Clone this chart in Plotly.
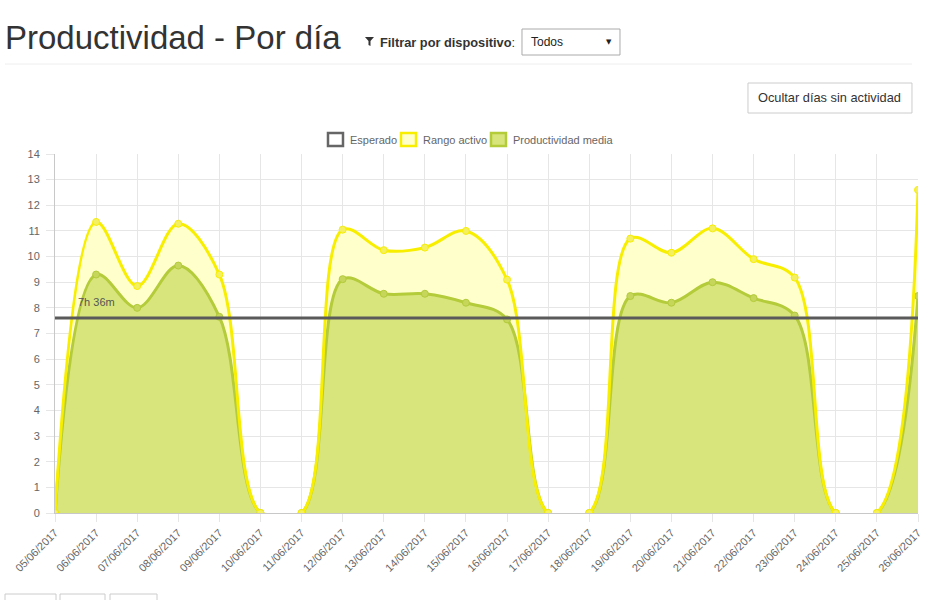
import plotly.graph_objects as go

dates = ["05/06/2017", "06/06/2017", "07/06/2017", "08/06/2017", "09/06/2017",
         "10/06/2017", "11/06/2017", "12/06/2017", "13/06/2017", "14/06/2017",
         "15/06/2017", "16/06/2017", "17/06/2017", "18/06/2017", "19/06/2017",
         "20/06/2017", "21/06/2017", "22/06/2017", "23/06/2017", "24/06/2017",
         "25/06/2017", "26/06/2017"]
rango_activo = [0, 11.35, 8.85, 11.28, 9.3, 0, 0, 11.05, 10.25, 10.35, 11.0, 9.1,
                0, 0, 10.7, 10.15, 11.1, 9.9, 9.18, 0, 0, 12.6]
productividad_media = [0, 9.3, 8.0, 9.65, 7.65, 0, 0, 9.12, 8.55, 8.55, 8.2, 7.55,
                       0, 0, 8.46, 8.2, 9.0, 8.38, 7.7, 0, 0, 8.46]
esperado = [7.6, 7.6, 7.6, 7.6, 7.6, 7.6, 7.6, 7.6, 7.6, 7.6, 7.6, 7.6,
            7.6, 7.6, 7.6, 7.6, 7.6, 7.6, 7.6, 7.6, 7.6, 7.6]
esperado_label = "7h 36m"
y_ticks = list(range(0, 15))

FONT = "Liberation Sans, Arial, Helvetica, sans-serif"
YEL = "#f7ee00"
YEL_FILL = "#ffffcc"
GRN = "#b4cb3a"
GRN_FILL = "#d8e57c"
GRAY_LINE = "#5a5a5a"

W, H = 930, 600
K = 0.9945  # horizontal display factor observed in the rendered page
# plot area in target screen pixels
SL, SR, ST, SB = 55, 918, 154, 513
L = round(SL / K, 1)
R = round(W - SR / K, 1)
T, B = ST, H - SB


def PX(xs):
    return (xs / K - L) / (W - L - R)


def PY(y):
    return (SB - y) / (SB - ST)


fig = go.Figure()

fig.add_trace(go.Scatter(
    x=dates, y=rango_activo, mode="lines", fill="tozeroy",
    fillcolor=YEL_FILL, line=dict(color=YEL, width=0, shape="spline", smoothing=1.0),
    hoverinfo="skip", showlegend=False))
fig.add_trace(go.Scatter(
    x=dates, y=productividad_media, mode="lines+markers", fill="tozeroy",
    fillcolor=GRN_FILL, name="Productividad media",
    line=dict(color=GRN, width=3, shape="spline", smoothing=1.0),
    marker=dict(size=7, color="#c5d65a", line=dict(color=GRN, width=1)),
    showlegend=False))
fig.add_trace(go.Scatter(
    x=dates, y=rango_activo, mode="lines+markers", name="Rango activo",
    line=dict(color=YEL, width=3, shape="spline", smoothing=1.0),
    marker=dict(size=7, color="#f4f060", line=dict(color=YEL, width=1)),
    showlegend=False))
fig.add_trace(go.Scatter(
    x=dates, y=esperado, mode="lines", name="Esperado",
    line=dict(color=GRAY_LINE, width=3), showlegend=False))

shapes = []
annotations = []

annotations.append(dict(x=PX(3), y=PY(37), xref="paper", yref="paper",
                        text="Productividad - Por día", showarrow=False,
                        xanchor="left", yanchor="middle",
                        font=dict(family=FONT, size=33, color="#333333")))
fx0, fy0 = 365, 37
shapes.append(dict(type="path", xref="paper", yref="paper",
                   path=(f"M {PX(fx0)},{PY(fy0)} L {PX(fx0+9)},{PY(fy0)} "
                         f"L {PX(fx0+5.5)},{PY(fy0+4)} L {PX(fx0+5.5)},{PY(fy0+9)} "
                         f"L {PX(fx0+3.5)},{PY(fy0+8)} L {PX(fx0+3.5)},{PY(fy0+4)} Z"),
                   fillcolor="#333333", line=dict(width=0)))
annotations.append(dict(x=PX(378), y=PY(42), xref="paper", yref="paper",
                        text="<b>Filtrar por dispositivo</b>:", showarrow=False,
                        xanchor="left", yanchor="middle",
                        font=dict(family=FONT, size=12.8, color="#333333")))
shapes.append(dict(type="rect", xref="paper", yref="paper",
                   x0=PX(522), x1=PX(620), y0=PY(29), y1=PY(55),
                   fillcolor="white", line=dict(color="#aaaaaa", width=1)))
annotations.append(dict(x=PX(529), y=PY(42), xref="paper", yref="paper",
                        text="Todos", showarrow=False, xanchor="left", yanchor="middle",
                        font=dict(family=FONT, size=12, color="#222222")))
annotations.append(dict(x=PX(609), y=PY(42), xref="paper", yref="paper",
                        text="▼", showarrow=False, xanchor="center", yanchor="middle",
                        font=dict(family="DejaVu Sans", size=7, color="#222222")))
shapes.append(dict(type="line", xref="paper", yref="paper",
                   x0=PX(5), x1=PX(912), y0=PY(64), y1=PY(64),
                   line=dict(color="#eeeeee", width=1)))
shapes.append(dict(type="rect", xref="paper", yref="paper",
                   x0=PX(748), x1=PX(912), y0=PY(83), y1=PY(113),
                   fillcolor="white", line=dict(color="#cccccc", width=1)))
annotations.append(dict(x=PX(830), y=PY(98), xref="paper", yref="paper",
                        text="Ocultar días sin actividad", showarrow=False,
                        xanchor="center", yanchor="middle",
                        font=dict(family=FONT, size=12.8, color="#333333")))
for x0, x1 in [(5, 56), (60, 105), (110, 157)]:
    shapes.append(dict(type="rect", xref="paper", yref="paper",
                       x0=PX(x0), x1=PX(x1), y0=PY(594), y1=PY(625),
                       fillcolor="white", line=dict(color="#cccccc", width=1)))

leg = [(328, "Esperado", "#ffffff", "#666666", 348),
       (401, "Rango activo", YEL_FILL, YEL, 421),
       (491, "Productividad media", GRN_FILL, GRN, 511)]
for bx, label, fc, lc, tx in leg:
    shapes.append(dict(type="rect", xref="paper", yref="paper",
                       x0=PX(bx), x1=PX(bx + 15), y0=PY(133), y1=PY(146),
                       fillcolor=fc, line=dict(color=lc, width=2.5)))
    annotations.append(dict(x=PX(tx), y=PY(140), xref="paper", yref="paper",
                            text=label, showarrow=False, xanchor="left", yanchor="middle",
                            font=dict(family=FONT, size=11, color="#666666")))

annotations.append(dict(x=dates[1], y=esperado[1], xref="x", yref="y",
                        text=esperado_label, showarrow=False, yshift=16,
                        xanchor="center", yanchor="middle",
                        font=dict(family=FONT, size=11, color="#555555")))

fig.update_layout(
    width=W, height=H, autosize=False,
    margin=dict(l=L, r=R, t=T, b=B, pad=0),
    paper_bgcolor="white", plot_bgcolor="white",
    showlegend=False,
    shapes=shapes, annotations=annotations,
    font=dict(family=FONT, size=11, color="#666666"),
    xaxis=dict(type="category", range=[0, len(dates) - 1], tickangle=-45,
               showgrid=True, gridcolor="#e6e6e6", gridwidth=1,
               ticks="outside", ticklen=8, tickcolor="#e6e6e6",
               showline=True, linecolor="#c8c8c8", linewidth=1,
               tickfont=dict(family=FONT, size=11, color="#666666"),
               fixedrange=True),
    yaxis=dict(range=[0, 14], tickvals=y_ticks,
               showgrid=True, gridcolor="#e6e6e6", gridwidth=1,
               ticks="outside", ticklen=8, tickcolor="#e6e6e6",
               showline=True, linecolor="#c8c8c8", linewidth=1,
               zeroline=False, ticklabelstandoff=4,
               tickfont=dict(family=FONT, size=11, color="#666666"),
               fixedrange=True),
)

fig.write_html(
    "out.html",
    config={"displayModeBar": False, "responsive": False},
    post_script=("document.documentElement.style.margin='0';"
                 "document.body.style.margin='0';document.body.style.padding='0';"
                 "document.body.style.overflow='hidden';"
                 "var gd=document.getElementById('{plot_id}');"
                 "gd.style.width='930px';gd.style.height='600px';"
                 "Plotly.relayout(gd,{width:930,height:600,autosize:false});"))
